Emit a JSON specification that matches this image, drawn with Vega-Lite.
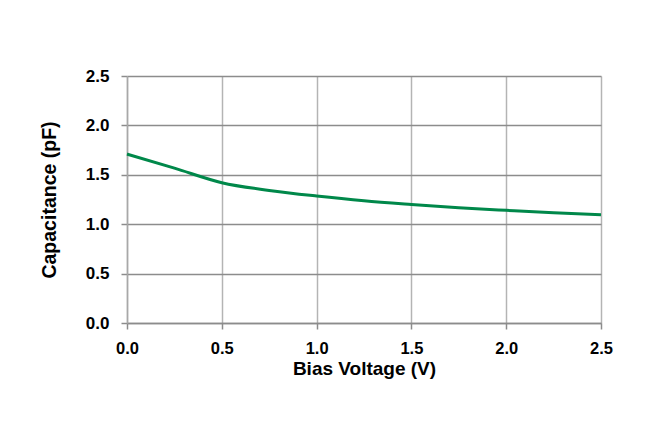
{
  "$schema": "https://vega.github.io/schema/vega-lite/v6.json",
  "autosize": {"type": "none"},
  "padding": {"left": 127, "top": 76, "right": 60, "bottom": 111},
  "width": 474,
  "height": 247,
  "background": "white",
  "config": {
    "view": {"stroke": null},
    "font": "Liberation Sans"
  },
  "data": {
    "values": [
      {"v": 0.0, "c": 1.71},
      {"v": 0.25, "c": 1.567},
      {"v": 0.5, "c": 1.42},
      {"v": 0.75, "c": 1.342},
      {"v": 1.0, "c": 1.285},
      {"v": 1.25, "c": 1.237},
      {"v": 1.5, "c": 1.2},
      {"v": 1.75, "c": 1.167},
      {"v": 2.0, "c": 1.14},
      {"v": 2.25, "c": 1.115},
      {"v": 2.5, "c": 1.096}
    ]
  },
  "mark": {"type": "line", "color": "#00884a", "strokeWidth": 3, "interpolate": "monotone"},
  "encoding": {
    "x": {
      "field": "v", "type": "quantitative",
      "scale": {"domain": [0, 2.5], "nice": false},
      "title": "Bias Voltage (V)",
      "axis": {
        "values": [0, 0.5, 1, 1.5, 2, 2.5],
        "format": ".1f",
        "labelFont": "Liberation Sans", "labelFontWeight": "bold", "labelFontSize": 16.5, "labelColor": "black",
        "labelPadding": 11, "labelFlush": false,
        "titleFont": "Liberation Sans", "titleFontWeight": "bold", "titleFontSize": 19, "titleColor": "black",
        "titlePadding": 3,
        "domainColor": "#8c8c8c", "domainWidth": 1.5,
        "tickColor": "#8c8c8c", "tickSize": 6, "tickWidth": 1.5,
        "gridColor": "#b4b4b4", "gridWidth": 1.5
      }
    },
    "y": {
      "field": "c", "type": "quantitative",
      "scale": {"domain": [0, 2.5], "nice": false},
      "title": "Capacitance (pF)",
      "axis": {
        "values": [0, 0.5, 1, 1.5, 2, 2.5],
        "format": ".1f",
        "labelFont": "Liberation Sans", "labelFontWeight": "bold", "labelFontSize": 17, "labelColor": "black",
        "labelPadding": 12,
        "titleFont": "Liberation Sans", "titleFontWeight": "bold", "titleFontSize": 19.5, "titleColor": "black",
        "titlePadding": 26,
        "domainColor": "#a8a8a8", "domainWidth": 1.5,
        "tickColor": "#8c8c8c", "tickSize": 6, "tickWidth": 1.5,
        "gridColor": "#8c8c8c", "gridWidth": 1.5
      }
    }
  }
}
